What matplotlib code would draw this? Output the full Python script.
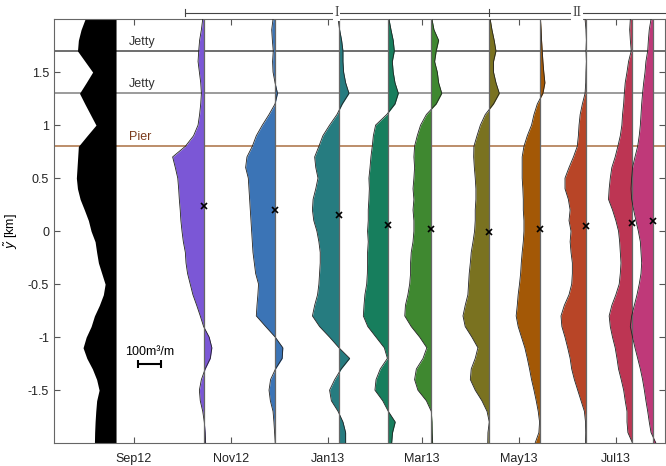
import numpy as np
import matplotlib
matplotlib.use('Agg')
import matplotlib.pyplot as plt
import matplotlib.dates as mdates
import matplotlib.transforms as mtrans
from datetime import datetime

plt.rcParams['font.family'] = ['Liberation Sans', 'DejaVu Sans']
plt.rcParams['font.size'] = 9

# alongshore positions of the profile samples [km], top to bottom
y = np.linspace(2.0, -2.0, 41)

# reference profile (black), width in m^3/m left of its baseline
black_date = datetime(2012, 8, 21)
black_vals = [139, 157, 169, 173, 139, 105, 134, 164, 140, 115, 90, 130, 169, 172, 175, 178,
              173, 161, 142, 124, 112, 94, 87, 79, 64, 49, 57, 75, 97, 112, 134, 148, 131, 106,
              87, 76, 87, 91, 94, 96, 97]

# survey dates and volume changes [m^3/m]
dates = [datetime(2012, 10, 15), datetime(2012, 11, 29), datetime(2013, 1, 8),
         datetime(2013, 2, 8), datetime(2013, 3, 7), datetime(2013, 4, 12),
         datetime(2013, 5, 14), datetime(2013, 6, 12), datetime(2013, 7, 11),
         datetime(2013, 7, 24)]
colors = ['#7b57d6', '#3b74b6', '#267c80', '#177e5d', '#3f8830', '#7a7220',
          '#a35806', '#b84527', '#bd3553', '#bf3979']
centroids = [0.24, 0.20, 0.15, 0.06, 0.02, -0.01, 0.02, 0.05, 0.08, 0.10]

purple = [-4, -10, -18, -22, -25, -19, -13, -10, -13, -18, -25, -45, -82, -139, -127, -116,
          -112, -109, -105, -102, -97, -91, -82, -79, -72, -60, -48, -31, -15, 0, 25, 37, 30,
          7, -10, -19, -15, -4, 3, 7, 9]
blue = [-10, -16, -13, -9, -12, -10, -1, 10, -1, -28, -58, -85, -103, -127, -133, -121,
        -118, -115, -112, -109, -106, -103, -100, -94, -88, -75, -78, -82, -85, -43, 0, 34, 31,
        1, -21, -28, -22, -10, -6, -3, 0]
teal = [-4, 3, 12, 18, 18, 21, 30, 45, 15, -9, -42, -72, -90, -109, -104, -94, -104, -116,
        -119, -113, -99, -90, -84, -84, -87, -90, -96, -109, -119, -87, -42, 0, 48, 10, -19,
        -42, -34, -4, 18, 30, 30]
green1 = [3, 12, 22, 27, 18, 22, 30, 45, 30, -7, -57, -67, -72, -78, -82, -87, -85, -87, -90,
          -90, -93, -90, -93, -93, -94, -97, -105, -109, -112, -92, -55, -18, -4, -36, -55, -60,
          -25, 0, 31, 19, 15]
green2 = [3, 12, 33, 22, 15, 27, 33, 47, 22, -22, -48, -63, -75, -78, -75, -78, -82, -78, -82,
          -78, -78, -82, -90, -93, -93, -97, -105, -116, -119, -90, -52, -20, -37, -67, -75,
          -60, -22, 0, 3, 4, 6]
olive = [7, 15, 25, 33, 22, 22, 33, 48, 22, -15, -37, -52, -66, -67, -64, -60, -57, -57, -60,
         -60, -63, -70, -78, -82, -87, -90, -93, -105, -115, -105, -75, -48, -60, -78, -82, -60,
         -30, -7, 3, -3, -4]
orange = [4, 7, 9, 12, 15, 19, 24, 15, -10, -25, -36, -55, -70, -78, -78, -78, -75, -73, -73,
          -70, -70, -73, -78, -82, -85, -90, -96, -100, -105, -96, -81, -66, -55, -45, -36, -25,
          -15, -6, 0, -3, -20]
redorange = [-3, 1, 3, 1, 3, 1, 0, -3, -15, -25, -30, -33, -38, -55, -75, -93, -93, -78, -70,
             -75, -66, -70, -66, -60, -60, -63, -75, -96, -111, -107, -93, -81, -70, -63, -51,
             -36, -21, -6, -1, 0, -1]
pinkred = [-7, -10, -7, -3, -15, -22, -30, -34, -37, -42, -45, -52, -63, -75, -90, -97, -102,
           -105, -87, -72, -60, -55, -52, -49, -52, -57, -72, -90, -102, -97, -87, -75, -67, -60,
           -48, -37, -30, -22, -22, -18, 3]
magenta = [-7, -15, -19, -22, -30, -34, -40, -45, -49, -52, -55, -60, -67, -79, -90, -94, -97,
           -94, -85, -75, -64, -55, -52, -49, -52, -60, -70, -82, -94, -100, -90, -79, -67, -55,
           -45, -37, -30, -22, -15, -7, 15]
profiles = [purple, blue, teal, green1, green2, olive, orange, redorange, pinkred, magenta]

landmarks = [1.7, 1.3, 0.8]
landmark_names = ['Jetty', 'Jetty', 'Pier']
landmark_colors = ['#555555', '#8a8a8a', '#b07a50']
landmark_text_colors = ['#333333', '#333333', '#7a3a1c']

days_per_unit = 14.0 / 100  # 100 m^3/m drawn as 14 days wide

fig = plt.figure(figsize=(6.66, 4.66), dpi=100)
ax = fig.add_axes([0.081, 0.049, 0.918, 0.910])

for yl, c in zip(landmarks, landmark_colors):
    ax.axhline(yl, color=c, lw=1.2, zorder=1)
for yl, name, tc in zip(landmarks, landmark_names, landmark_text_colors):
    ax.text(mdates.date2num(datetime(2012, 8, 29)), yl + 0.085, name, color=tc,
            fontsize=9, va='center', ha='left', zorder=1)

# reference profile
b0 = mdates.date2num(black_date)
bx = b0 - np.array(black_vals) * days_per_unit
ax.fill_betweenx(y, bx, b0, color='black', lw=0, zorder=2)

for d, vals, c, yc in zip(dates, profiles, colors, centroids):
    x0 = mdates.date2num(d)
    xs = x0 + np.array(vals) * days_per_unit
    ax.fill_betweenx(y, x0, xs, color=c, lw=0, zorder=2)
    ax.plot(xs, y, color='#222222', lw=0.6, zorder=3)
    ax.plot([x0, x0], [-2, 2], color='#666666', lw=0.9, zorder=3)
    ax.plot(x0, yc, 'x', color='black', ms=5, mew=1.2, zorder=4)

# scale bar
sb0 = mdates.date2num(datetime(2012, 9, 4))
ax.errorbar([sb0 + 7], [-1.25], xerr=[[7], [7]], color='black', lw=1.5, capsize=3,
            capthick=1.5, zorder=4)
ax.text(sb0 + 7, -1.14, '100m³/m', ha='center', va='center', fontsize=9)

# period brackets above the axes
trans = mtrans.blended_transform_factory(ax.transData, ax.transAxes)
p0 = mdates.date2num(datetime(2012, 10, 3))
p1 = mdates.date2num(datetime(2013, 4, 12))
p2 = mdates.date2num(datetime(2013, 8, 5))
yb = 1.015
ax.plot([p0, p2], [yb, yb], color='#444444', lw=0.8, transform=trans, clip_on=False)
for p in (p0, p1):
    ax.plot([p, p], [yb - 0.008, yb + 0.008], color='#444444', lw=0.8, transform=trans,
            clip_on=False)
ax.text((p0 + p1) / 2, yb, 'I', ha='center', va='center', transform=trans,
        family=['Liberation Serif', 'DejaVu Serif'], fontsize=10, color='#444444',
        bbox=dict(facecolor='white', edgecolor='none', pad=1))
ax.text((p1 + mdates.date2num(datetime(2013, 8, 1))) / 2, yb, 'II', ha='center', va='center',
        transform=trans, family=['Liberation Serif', 'DejaVu Serif'], fontsize=10,
        color='#444444', bbox=dict(facecolor='white', edgecolor='none', pad=1))

ax.set_xlim(mdates.date2num(datetime(2012, 7, 13)), mdates.date2num(datetime(2013, 8, 1)))
ax.set_ylim(-2.0, 2.0)
ax.xaxis.set_major_locator(mdates.MonthLocator(bymonth=[1, 3, 5, 7, 9, 11]))
ax.xaxis.set_major_formatter(mdates.DateFormatter('%b%y'))
ax.set_yticks([-1.5, -1, -0.5, 0, 0.5, 1, 1.5])
ax.set_yticklabels(['-1.5', '-1', '-0.5', '0', '0.5', '1', '1.5'])
ax.tick_params(direction='in', top=True, right=True, length=4, width=0.8,
               color='#555555', labelsize=9, labelcolor='#222222')
ax.tick_params(axis='x', pad=7)
for s in ax.spines.values():
    s.set_color('#666666')
    s.set_linewidth(0.8)
ax.set_ylabel(r'$\tilde{y}$ [km]', fontsize=9, labelpad=6)

fig.savefig('out.png', dpi=100)
